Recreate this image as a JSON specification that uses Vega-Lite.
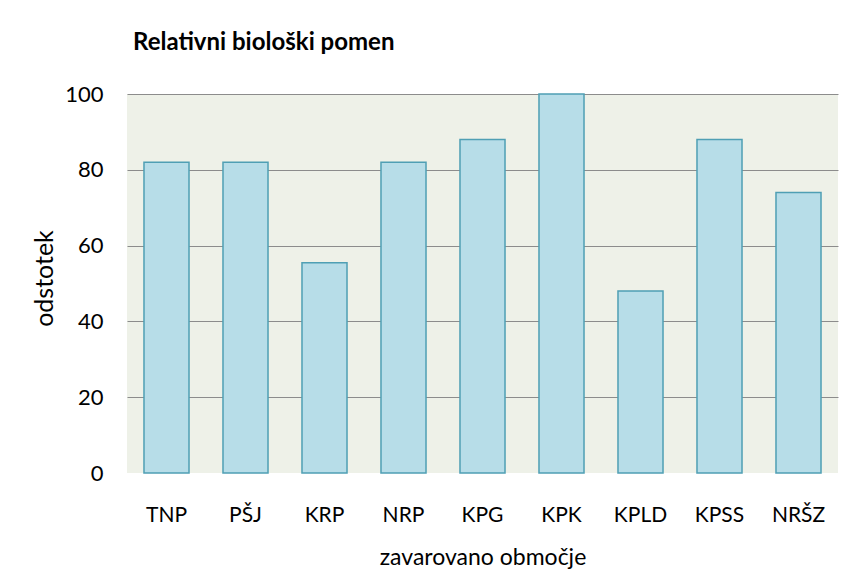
{
  "$schema": "https://vega.github.io/schema/vega-lite/v6.json",
  "width": 711,
  "height": 379,
  "autosize": {"type": "none"},
  "padding": {"left": 127, "top": 94, "right": 16, "bottom": 97},
  "background": "white",
  "title": {
    "text": "Relativni biološki  pomen",
    "anchor": "start",
    "frame": "group",
    "font": "Lato",
    "fontSize": 24,
    "fontWeight": "bold",
    "color": "#000000",
    "dx": 6,
    "offset": 28
  },
  "data": {
    "values": [
      {"obmocje": "TNP", "odstotek": 82},
      {"obmocje": "PŠJ", "odstotek": 82},
      {"obmocje": "KRP", "odstotek": 55.5},
      {"obmocje": "NRP", "odstotek": 82},
      {"obmocje": "KPG", "odstotek": 88},
      {"obmocje": "KPK", "odstotek": 100},
      {"obmocje": "KPLD", "odstotek": 48},
      {"obmocje": "KPSS", "odstotek": 88},
      {"obmocje": "NRŠZ", "odstotek": 74}
    ]
  },
  "mark": {"type": "bar", "fill": "#b7dde8", "stroke": "#4f9fb4", "strokeWidth": 1.5},
  "encoding": {
    "x": {
      "field": "obmocje",
      "type": "nominal",
      "sort": null,
      "scale": {"paddingInner": 0.43, "paddingOuter": 0.215},
      "axis": {
        "title": "zavarovano območje",
        "labelAngle": 0,
        "labelFont": "Lato",
        "labelFontSize": 21,
        "labelColor": "#000000",
        "labelPadding": 31,
        "ticks": false,
        "domain": false,
        "titleFont": "Lato",
        "titleFontSize": 23,
        "titleFontWeight": "normal",
        "titleColor": "#000000",
        "titlePadding": 21
      }
    },
    "y": {
      "field": "odstotek",
      "type": "quantitative",
      "scale": {"domain": [0, 100], "nice": false},
      "axis": {
        "title": "odstotek",
        "values": [0, 20, 40, 60, 80, 100],
        "labelFont": "Lato",
        "labelFontSize": 22,
        "labelColor": "#000000",
        "labelPadding": 24,
        "ticks": false,
        "domain": false,
        "gridColor": "#8c8c8c",
        "gridWidth": 1,
        "gridOpacity": {"condition": {"test": "datum.value == 0", "value": 0}, "value": 1},
        "titleFont": "Lato",
        "titleFontSize": 25,
        "titleFontWeight": "normal",
        "titleColor": "#000000",
        "titleAngle": -90,
        "titleBaseline": "middle",
        "titleAlign": "center",
        "titleX": -83,
        "titleY": 184
      }
    }
  },
  "config": {
    "view": {"fill": "#eef1e8", "stroke": null}
  }
}
